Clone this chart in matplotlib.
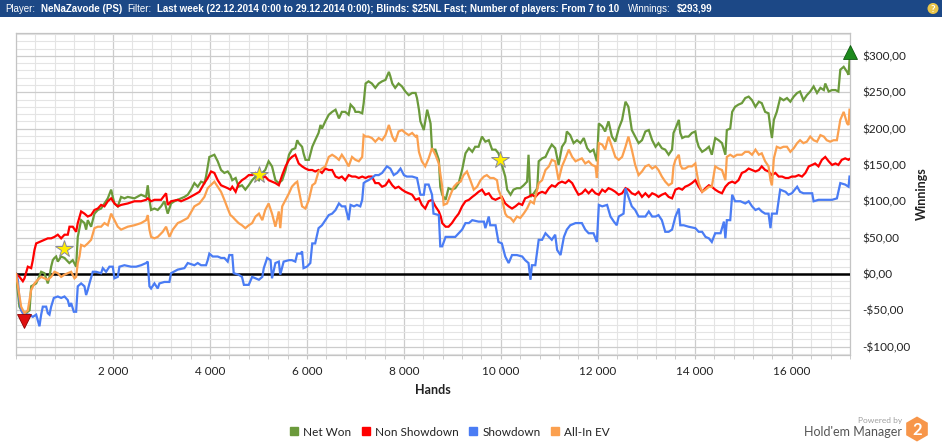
import matplotlib
matplotlib.use("Agg")
import matplotlib.pyplot as plt
import matplotlib.patches as patches
from matplotlib import font_manager
from matplotlib.lines import Line2D
from matplotlib.ticker import MultipleLocator, FuncFormatter
from matplotlib.transforms import offset_copy

# ---- data (hands, dollars) ----
net_won = [
    (0, 0), (70, -45), (175, -57), (240, -52), (280, -50), (313, -17), (416, -13), (519, 3),
    (587, 1), (656, -13), (690, -4), (725, 10), (759, 19), (793, 22), (828, 24), (862, 17),
    (930, 24), (1000, 22), (1100, 15), (1170, 19), (1240, 10), (1274, 51), (1343, 74),
    (1412, 70), (1446, 61), (1480, 74), (1549, 65), (1618, 83), (1687, 88), (1755, 90),
    (1824, 97), (1893, 104), (1962, 116), (1996, 106), (2030, 97), (2099, 93), (2168, 106),
    (2236, 104), (2305, 106), (2442, 104), (2580, 109), (2683, 106), (2717, 122), (2752, 102),
    (2786, 88), (2855, 90), (2923, 88), (2992, 93), (3061, 100), (3129, 83), (3198, 97),
    (3267, 100), (3336, 102), (3404, 104), (3473, 106), (3542, 109), (3610, 116), (3679, 125),
    (3748, 120), (3817, 127), (3885, 125), (3919, 134), (3988, 161), (4091, 164), (4160, 155),
    (4229, 143), (4297, 139), (4366, 141), (4421, 136),
    (4460, 129), (4530, 132), (4590, 120), (4660, 122), (4730, 116), (4800, 122), (4870, 129),
    (4940, 134), (5010, 129), (5080, 139), (5140, 143), (5210, 155), (5280, 148), (5350, 129),
    (5420, 125), (5490, 129), (5560, 143), (5630, 164), (5690, 171), (5760, 173), (5800, 184),
    (5830, 180), (5900, 175), (5930, 166), (5970, 157), (6040, 157), (6110, 175), (6170, 184),
    (6240, 194), (6280, 205), (6310, 200), (6380, 210), (6450, 219), (6520, 223), (6590, 226),
    (6660, 214), (6720, 223), (6790, 223), (6860, 219), (6900, 233), (6970, 228), (7000, 223),
    (7070, 223), (7140, 221), (7170, 235), (7210, 262), (7270, 265), (7340, 262), (7410, 256),
    (7480, 262), (7550, 265), (7620, 267), (7690, 278), (7720, 272), (7760, 262), (7820, 256),
    (7890, 262), (7960, 258), (8030, 251), (8100, 246), (8170, 249), (8240, 249), (8270, 242),
    (8310, 226), (8340, 210), (8410, 198), (8480, 226), (8550, 207), (8580, 171), (8650, 171),
    (8720, 157), (8750, 120),
    (8790, 109), (8860, 102), (8920, 118), (8990, 116), (9060, 118), (9130, 125), (9200, 143),
    (9270, 166), (9340, 173), (9410, 168), (9470, 175), (9540, 175), (9610, 189), (9680, 182),
    (9750, 184), (9820, 171), (9890, 171), (9950, 166), (10020, 150), (10090, 134), (10130, 116),
    (10200, 109), (10260, 116), (10330, 118), (10400, 118), (10470, 122), (10540, 127),
    (10570, 164), (10610, 106), (10680, 111), (10750, 118), (10780, 155), (10850, 159),
    (10920, 161), (10990, 171), (11050, 178), (11120, 173), (11190, 150), (11260, 175),
    (11330, 182), (11360, 196), (11430, 191), (11500, 180), (11570, 184), (11640, 180),
    (11710, 187), (11780, 173), (11840, 168), (11910, 171), (11980, 155), (12020, 207),
    (12090, 203), (12150, 196), (12220, 210), (12290, 189), (12360, 182), (12430, 200),
    (12500, 212), (12570, 237), (12630, 230), (12700, 198), (12770, 189), (12840, 180),
    (12910, 184), (12980, 196), (13050, 198),
    (13120, 184), (13190, 175), (13250, 180), (13320, 173), (13390, 171), (13460, 164),
    (13530, 171), (13560, 194), (13600, 200), (13670, 212), (13700, 194), (13740, 187),
    (13800, 189), (13870, 189), (13940, 194), (14010, 196), (14040, 184), (14080, 175),
    (14150, 168), (14220, 171), (14290, 175), (14350, 164), (14420, 187), (14490, 184),
    (14560, 180), (14630, 164), (14660, 198), (14730, 200), (14770, 223), (14830, 230),
    (14900, 233), (14970, 235), (15040, 242), (15110, 244), (15180, 239), (15250, 230),
    (15320, 237), (15380, 235), (15450, 223), (15520, 221), (15560, 200), (15590, 187),
    (15630, 212), (15690, 223), (15760, 242), (15830, 239), (15900, 242), (15970, 237),
    (16040, 244), (16110, 249), (16170, 251), (16240, 239), (16310, 246), (16380, 251),
    (16450, 258), (16520, 249), (16590, 256), (16660, 253), (16690, 262), (16760, 251),
    (16830, 253), (16900, 253), (16960, 251), (17000, 281), (17070, 285), (17140, 278),
    (17170, 274), (17190, 294),
]

non_showdown = [
    (0, 0), (72, -4), (141, -10), (175, -6), (244, 10), (313, 8), (347, 19), (381, 33),
    (416, 42), (484, 44), (587, 47), (656, 49), (725, 49), (793, 51), (862, 54), (931, 49),
    (1000, 54), (1068, 54), (1103, 65), (1171, 65), (1240, 58), (1274, 70), (1343, 86),
    (1412, 83), (1480, 79), (1549, 81), (1618, 88), (1687, 90), (1755, 95), (1824, 93),
    (1893, 100), (1962, 104), (2030, 97), (2099, 93), (2168, 95), (2305, 97), (2442, 100),
    (2580, 100), (2683, 102), (2717, 104), (2786, 100), (2855, 102), (2992, 102), (3095, 111),
    (3129, 95), (3198, 100), (3336, 102), (3404, 100), (3542, 104), (3679, 109), (3782, 113),
    (3885, 125), (3954, 132), (4023, 141), (4091, 139), (4160, 129), (4229, 122), (4297, 120),
    (4366, 118), (4421, 116),
    (4460, 120), (4530, 113), (4590, 124), (4660, 129), (4730, 132), (4800, 136), (4870, 136),
    (4940, 139), (5010, 134), (5080, 132), (5140, 134), (5210, 129), (5280, 127), (5350, 125),
    (5420, 122), (5490, 136), (5560, 148), (5630, 157), (5690, 161), (5760, 164), (5830, 152),
    (5900, 148), (5970, 145), (6040, 143), (6110, 143), (6170, 141), (6240, 143), (6310, 139),
    (6380, 145), (6450, 143), (6520, 143), (6590, 134), (6660, 132), (6720, 134), (6790, 129),
    (6860, 136), (6930, 134), (7000, 134), (7070, 132), (7140, 134), (7210, 132), (7270, 134),
    (7340, 134), (7410, 125), (7480, 125), (7550, 120), (7620, 122), (7690, 129), (7760, 122),
    (7820, 118), (7890, 120), (7960, 116), (8030, 113), (8100, 111), (8170, 109), (8240, 102),
    (8310, 104), (8370, 95), (8440, 90), (8510, 100), (8580, 102), (8650, 93), (8720, 86),
    (8760, 79),
    (8790, 70), (8860, 65), (8920, 65), (8990, 70), (9060, 77), (9130, 83), (9200, 93),
    (9270, 100), (9340, 102), (9410, 106), (9470, 109), (9540, 113), (9610, 116), (9680, 109),
    (9750, 111), (9820, 104), (9890, 102), (9950, 104), (10020, 106), (10090, 97), (10160, 93),
    (10230, 90), (10300, 93), (10370, 97), (10440, 95), (10500, 104), (10570, 106), (10640, 109),
    (10710, 106), (10780, 111), (10850, 113), (10920, 111), (10990, 118), (11050, 122),
    (11120, 120), (11190, 125), (11260, 127), (11330, 125), (11400, 129), (11470, 125),
    (11540, 116), (11600, 109), (11670, 111), (11740, 116), (11810, 111), (11880, 116),
    (11950, 111), (12020, 109), (12090, 116), (12150, 113), (12220, 118), (12290, 116),
    (12360, 113), (12430, 109), (12500, 111), (12570, 118), (12630, 116), (12700, 111),
    (12770, 109), (12840, 113), (12910, 106), (12980, 111), (13050, 106),
    (13120, 111), (13190, 109), (13250, 106), (13320, 109), (13390, 111), (13460, 106),
    (13530, 104), (13600, 116), (13670, 118), (13740, 116), (13800, 120), (13870, 122),
    (13940, 125), (14010, 129), (14080, 120), (14150, 113), (14220, 118), (14290, 122),
    (14350, 120), (14420, 116), (14490, 113), (14560, 111), (14630, 120), (14700, 125),
    (14770, 127), (14830, 125), (14900, 129), (14970, 139), (15040, 141), (15110, 145),
    (15180, 143), (15250, 141), (15320, 143), (15380, 148), (15450, 143), (15520, 141),
    (15590, 136), (15660, 139), (15730, 134), (15800, 134), (15870, 132), (15930, 132),
    (16000, 134), (16070, 134), (16140, 136), (16210, 134), (16280, 139), (16350, 148),
    (16420, 150), (16480, 152), (16550, 148), (16620, 157), (16690, 161), (16760, 155),
    (16830, 150), (16900, 152), (16960, 150), (17030, 157), (17100, 159), (17170, 157),
    (17190, 158),
]

showdown = [
    (0, 0), (38, -8), (72, -36), (106, -50), (141, -54), (210, -56), (278, -56), (347, -59),
    (416, -56), (484, -72), (519, -56), (553, -45), (622, -45), (656, -54), (690, -56),
    (725, -45), (780, -33), (862, -31), (931, -33), (1000, -31), (1068, -36), (1103, -45),
    (1137, -40), (1192, -52), (1240, -52), (1274, -17), (1343, -13), (1412, -17), (1446, -29),
    (1480, -22), (1515, -13), (1584, 3), (1652, 3), (1755, 1), (1790, 8), (1858, 3), (1927, 10),
    (1996, 10), (2030, -6), (2099, -4), (2133, 10), (2236, 12), (2373, 10), (2477, 10),
    (2580, 12), (2683, 15), (2717, 17), (2752, -17), (2786, -20), (2855, -13), (2923, -20),
    (2958, -13), (3061, -11), (3164, -11), (3198, 1), (3336, 6), (3473, 8), (3542, 15),
    (3679, 12), (3748, 15), (3817, 12), (3919, 12), (3954, 19), (3988, 28), (4057, 24),
    (4160, 24), (4229, 22), (4297, 22), (4366, 17), (4400, 26),
    (4460, 26), (4490, 1), (4590, -1), (4660, -4), (4700, -15), (4800, -15), (4870, -4),
    (4940, -6), (5010, -8), (5080, -4), (5110, 8), (5180, 22), (5250, 19), (5280, -6),
    (5350, 15), (5420, 17), (5450, -1), (5520, 17), (5630, 19), (5690, 19), (5760, 17),
    (5800, 28), (5870, 28), (5900, 31), (5930, 8), (6000, 10), (6070, 15), (6110, 42),
    (6170, 42), (6240, 63), (6310, 67), (6380, 74), (6450, 81), (6520, 83), (6590, 88),
    (6660, 97), (6720, 93), (6790, 93), (6860, 74), (6900, 95), (6970, 93), (7030, 95),
    (7100, 93), (7140, 102), (7170, 125), (7210, 127), (7270, 129), (7340, 132), (7410, 136),
    (7480, 136), (7550, 139), (7650, 148), (7720, 145), (7790, 136), (7860, 139), (7930, 145),
    (8000, 136), (8060, 134), (8170, 134), (8270, 132), (8340, 109), (8410, 109), (8440, 123),
    (8510, 123), (8580, 109), (8610, 83), (8720, 81), (8750, 38),
    (8790, 38), (8860, 51), (8990, 51), (9060, 51), (9130, 56), (9200, 61), (9270, 70),
    (9340, 70), (9410, 74), (9540, 72), (9650, 72), (9680, 63), (9750, 79), (9780, 67),
    (9890, 67), (9950, 44), (10020, 42), (10090, 24), (10160, 15), (10230, 26), (10330, 26),
    (10440, 24), (10500, 19), (10570, 15), (10610, -8), (10640, 12), (10710, 12), (10780, 47),
    (10850, 47), (10920, 56), (10990, 51), (11050, 47), (11120, 54), (11160, 33), (11230, 26),
    (11300, 51), (11360, 61), (11430, 67), (11540, 70), (11670, 70), (11740, 61), (11810, 56),
    (11910, 56), (11980, 44), (12020, 95), (12090, 93), (12190, 95), (12260, 79), (12330, 72),
    (12390, 67), (12430, 79), (12530, 83), (12570, 118), (12630, 106), (12700, 93), (12770, 88),
    (12840, 79), (12980, 79), (13050, 86),
    (13120, 79), (13190, 79), (13250, 81), (13320, 74), (13390, 58), (13460, 58), (13530, 61),
    (13600, 79), (13670, 90), (13700, 67), (13770, 67), (13870, 65), (14010, 63), (14080, 58),
    (14150, 58), (14220, 51), (14290, 49), (14350, 44), (14390, 51), (14420, 56), (14530, 56),
    (14600, 72), (14630, 49), (14660, 74), (14730, 74), (14770, 109), (14830, 100),
    (14940, 100), (15040, 97), (15110, 100), (15180, 93), (15250, 88), (15320, 90), (15380, 86),
    (15450, 83), (15520, 83), (15560, 63), (15590, 83), (15690, 83), (15760, 116), (15870, 113),
    (15930, 109), (16000, 111), (16110, 120), (16170, 113), (16240, 111), (16350, 111),
    (16420, 111), (16450, 100), (16550, 102), (16690, 102), (16830, 102), (16930, 104),
    (16960, 113), (17000, 125), (17100, 123), (17170, 120), (17190, 134),
]

allin_ev = [
    (0, 0), (72, -31), (106, -45), (175, -54), (244, -50), (313, -22), (381, -13), (450, -8),
    (519, -4), (587, -6), (656, -8), (725, -4), (793, 3), (862, 1), (931, -4), (1000, -1),
    (1068, 1), (1137, 3), (1206, -6), (1240, -4), (1274, 15), (1309, 24), (1343, 40),
    (1412, 38), (1480, 42), (1549, 47), (1618, 63), (1687, 65), (1755, 65), (1824, 70),
    (1893, 67), (1962, 83), (2030, 74), (2099, 65), (2168, 61), (2305, 65), (2442, 67),
    (2580, 70), (2683, 74), (2717, 81), (2752, 61), (2786, 51), (2855, 49), (2923, 51),
    (3026, 58), (3095, 65), (3164, 51), (3233, 61), (3336, 70), (3404, 72), (3542, 77),
    (3679, 93), (3782, 97), (3885, 106), (3954, 118), (4091, 127), (4160, 120), (4229, 113),
    (4297, 102), (4366, 90), (4421, 81),
    (4460, 79), (4530, 74), (4590, 70), (4660, 67), (4730, 63), (4800, 67), (4870, 70),
    (4940, 79), (5010, 83), (5080, 74), (5140, 88), (5210, 97), (5280, 83), (5350, 65),
    (5420, 86), (5450, 63), (5490, 93), (5560, 102), (5630, 111), (5690, 120), (5760, 125),
    (5800, 127), (5830, 116), (5900, 93), (5970, 90), (6040, 102), (6110, 122), (6170, 125),
    (6240, 141), (6310, 145), (6380, 148), (6450, 161), (6520, 164), (6590, 161), (6660, 157),
    (6720, 164), (6790, 157), (6860, 148), (6930, 161), (7000, 157), (7070, 155), (7140, 161),
    (7170, 191), (7210, 189), (7270, 189), (7340, 187), (7410, 182), (7480, 187), (7550, 184),
    (7620, 191), (7690, 205), (7760, 189), (7820, 182), (7890, 196), (7960, 198), (8030, 194),
    (8100, 191), (8170, 194), (8240, 189), (8270, 191), (8310, 168), (8370, 155), (8440, 148),
    (8510, 159), (8580, 173), (8650, 164), (8720, 152),
    (8790, 120), (8820, 95), (8890, 97), (8960, 109), (9030, 120), (9100, 125), (9170, 127),
    (9230, 136), (9300, 141), (9370, 129), (9440, 116), (9510, 120), (9580, 129), (9650, 134),
    (9710, 136), (9780, 132), (9850, 132), (9920, 129), (9950, 116), (10020, 104), (10090, 83),
    (10130, 79), (10200, 77), (10260, 72), (10330, 79), (10400, 77), (10470, 83), (10540, 90),
    (10610, 100), (10680, 97), (10710, 106), (10750, 116), (10780, 125), (10850, 129),
    (10920, 143), (10990, 148), (11050, 157), (11120, 155), (11190, 129), (11260, 148),
    (11330, 159), (11400, 171), (11470, 161), (11540, 155), (11600, 157), (11670, 159),
    (11740, 152), (11810, 155), (11880, 150), (11950, 148), (11980, 132), (12020, 180),
    (12090, 178), (12150, 171), (12220, 189), (12290, 175), (12360, 161), (12430, 157),
    (12500, 161), (12570, 175), (12630, 189), (12700, 171), (12770, 150), (12840, 136),
    (12910, 141), (12980, 148), (13050, 150),
    (13120, 145), (13190, 148), (13250, 143), (13320, 134), (13390, 127), (13460, 122),
    (13530, 125), (13560, 148), (13600, 157), (13670, 164), (13700, 150), (13740, 145),
    (13800, 145), (13870, 148), (13940, 148), (14010, 152), (14040, 139), (14080, 125),
    (14150, 113), (14220, 116), (14290, 120), (14350, 120), (14420, 148), (14490, 145),
    (14560, 143), (14630, 129), (14660, 161), (14730, 164), (14800, 161), (14870, 164),
    (14970, 164), (15040, 168), (15110, 168), (15180, 164), (15250, 171), (15320, 164),
    (15380, 166), (15450, 155), (15520, 148), (15560, 129), (15590, 122), (15630, 159),
    (15690, 175), (15760, 173), (15830, 175), (15900, 175), (15970, 168), (16040, 173),
    (16110, 180), (16170, 184), (16240, 180), (16310, 182), (16380, 189), (16450, 184),
    (16520, 182), (16590, 191), (16660, 189), (16720, 184), (16790, 182), (16860, 184),
    (16930, 184), (17000, 212), (17070, 223), (17140, 207), (17170, 205), (17190, 226),
]

star_hands = [1000, 5010, 9990]
star_values = [34, 136, 157]

series_names = ["Net Won", "Non Showdown", "Showdown", "All-In EV"]
series_colors = ["#6b9a3b", "#ff0000", "#4a7cf4", "#fba04f"]
x_ticks = [2000, 4000, 6000, 8000, 10000, 12000, 14000, 16000]
y_ticks = [-100, -50, 0, 50, 100, 150, 200, 250, 300]

# header pieces: text, weight
header_parts = [
    ("Player:", "normal"),
    ("NeNaZavode (PS)", "bold"),
    ("Filter:", "normal"),
    ("Last week (22.12.2014 0:00 to 29.12.2014 0:00); Blinds: $25NL Fast; "
     "Number of players: From 7 to 10", "bold"),
    ("Winnings:", "normal"),
    ("$293,99", "bold"),
]


def pick_font(names):
    for n in names:
        try:
            font_manager.findfont(font_manager.FontProperties(family=n),
                                  fallback_to_default=False)
            return n
        except Exception:
            pass
    return "DejaVu Sans"


main_font = pick_font(["Lato", "Open Sans", "Liberation Sans"])
head_font = pick_font(["Liberation Sans Narrow", "Liberation Sans"])

W, H = 942, 445
fig = plt.figure(figsize=(W / 100, H / 100), dpi=100)
fig.patch.set_facecolor("white")
plt.rcParams["font.family"] = [main_font, "DejaVu Sans"]

# main plot area (pixel box 16..850 x 33..355)
ax = fig.add_axes([16 / W, 1 - 355 / H, (850 - 16) / W, (355 - 33) / H])
ax.set_xlim(0, 17200)
ax.set_ylim(-111.5, 331.5)

ax.xaxis.set_major_locator(MultipleLocator(2000))
ax.xaxis.set_minor_locator(MultipleLocator(400))
ax.yaxis.set_major_locator(MultipleLocator(50))
ax.yaxis.set_minor_locator(MultipleLocator(10))
ax.grid(which="minor", color="#e4e4e4", lw=0.8)
ax.grid(which="major", color="#cccccc", lw=0.9)
ax.set_axisbelow(True)
for s in ax.spines.values():
    s.set_color("#c4c4c4")
    s.set_linewidth(0.9)

ax.set_xticks(x_ticks)
ax.xaxis.set_major_formatter(FuncFormatter(lambda v, p: f"{int(v):,}".replace(",", " ")))
ax.set_yticks(y_ticks)
ax.yaxis.tick_right()
ax.yaxis.set_label_position("right")
ax.yaxis.set_major_formatter(FuncFormatter(
    lambda v, p: ("-" if v < 0 else "") + f"${abs(int(v))},00"))
ax.tick_params(axis="y", which="both", length=0, pad=9, labelsize=8.5, labelcolor="#222222")
ax.tick_params(axis="x", which="major", length=3, color="#c4c4c4", pad=5,
               labelsize=8.5, labelcolor="#222222")
ax.tick_params(axis="x", which="minor", length=3, color="#c4c4c4")

ax.set_xlabel("Hands", fontsize=9, fontweight="bold", labelpad=5, color="#222222")
ax.set_ylabel("Winnings", fontsize=9, fontweight="bold", labelpad=4, color="#222222")

ax.axhline(0, color="black", lw=1.8, zorder=3)

all_series = [net_won, non_showdown, showdown, allin_ev]
draw_order = [3, 2, 0, 1]
for i in draw_order:
    hx = [p[0] for p in all_series[i]]
    hy = [p[1] for p in all_series[i]]
    ax.plot(hx, hy, color=series_colors[i], lw=1.6, zorder=4 + i * 0.1,
            solid_joinstyle="miter")

# extreme markers on Net Won
net_x = [p[0] for p in net_won]
net_y = [p[1] for p in net_won]
i_min = net_y.index(min(net_y))
i_max = net_y.index(max(net_y))
ax.plot(net_x[i_min], net_y[i_min], marker="v", ms=10, color="#e01010", mec="#900000", mew=0.6,
        transform=offset_copy(ax.transData, fig=fig, y=-4, units="points"), zorder=6,
        clip_on=False)
ax.plot(net_x[i_max], net_y[i_max], marker="^", ms=10, color="#1c8a1c", mec="#0d5a0d", mew=0.6,
        transform=offset_copy(ax.transData, fig=fig, y=6, units="points"), zorder=6,
        clip_on=False)

ax.plot(star_hands, star_values, linestyle="none", marker="*", ms=13, color="#ffee00",
        mec="#8a8a9a", mew=0.7, zorder=7)

# overlay in pixel coordinates for header, legend, logo
ov = fig.add_axes([0, 0, 1, 1], zorder=-1)
ov.set_xlim(0, W)
ov.set_ylim(H, 0)
ov.axis("off")
ov.add_patch(patches.Rectangle((0, 0), W, 17, facecolor="#1c4886", edgecolor="none"))

# header: size so the whole line ends near x=709, pieces laid out one after another
head_size = 8
head_texts = [ov.text(0, 8.5, txt, color="white", fontsize=head_size, fontweight=wt,
                      ha="left", va="center", family=[head_font, "DejaVu Sans"])
              for txt, wt in header_parts]
fig.canvas.draw()
rend = fig.canvas.get_renderer()
gap = 5
widths = [t.get_window_extent(rend).width for t in head_texts]
total = sum(widths) + gap * (len(widths) - 1)
scale = min(1.0, (709 - 5) / total)
x_cur = 5
for t, w in zip(head_texts, widths):
    t.set_fontsize(head_size * scale)
    t.set_x(x_cur)
    x_cur += w * scale + gap

ov.add_patch(patches.Circle((933, 8.5), 5.5, facecolor="#e9c54b", edgecolor="none"))
ov.text(933, 9, "?", color="white", fontsize=7, fontweight="bold", ha="center", va="center")

ov.text(902, 420, "Powered by", color="#a0a0a0", fontsize=6, ha="right", va="center")
ov.text(902, 432, "Hold'em Manager", color="#555555", fontsize=9, ha="right", va="center")
ov.add_patch(patches.RegularPolygon((917, 429), 6, radius=12.5, facecolor="#f7964a",
                                    edgecolor="none"))
ov.text(917, 430, "2", color="white", fontsize=12, fontweight="bold", ha="center", va="center")

handles = [Line2D([], [], linestyle="none", marker="s", ms=6, color=c) for c in series_colors]
fig.legend(handles, series_names, ncol=4, loc="center", bbox_to_anchor=(450 / W, 1 - 432 / H),
           frameon=False, fontsize=8.5, handlelength=0.7, handletextpad=0.4,
           columnspacing=0.9, labelcolor="#222222")

fig.savefig("out.png", dpi=100, facecolor="white")
